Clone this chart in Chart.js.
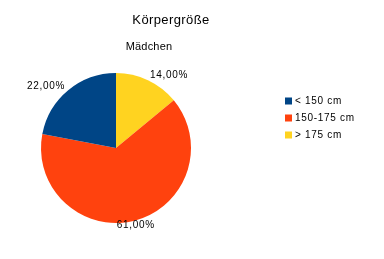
<!DOCTYPE html>
<html>
<head>
<meta charset="utf-8">
<script src="https://cdn.jsdelivr.net/npm/chart.js@4"></script>
<style>
  html, body { margin: 0; padding: 0; background: #fff; }
  #wrap { width: 384px; height: 259px; position: relative; }
</style>
</head>
<body>
<div id="wrap"><canvas id="chart" width="384" height="259"></canvas></div>
<script>
const titleText = 'Körpergröße';
const subtitleText = 'Mädchen';
const categories = ['< 150 cm', '150-175 cm', '> 175 cm'];
const shares = [22, 64, 14];
const valueLabels = ['22,00%', '61,00%', '14,00%'];
const colors = ['#004586', '#ff420e', '#ffd320'];

// pie drawn starting at 12 o'clock: yellow, red, blue going clockwise
const order = [2, 1, 0];

const font = 'Liberation Sans, Arial, sans-serif';

const decorations = {
  id: 'decorations',
  afterDraw(chart) {
    const ctx = chart.ctx;
    ctx.save();
    ctx.fillStyle = '#000';
    ctx.textBaseline = 'middle';

    ctx.font = `13px ${font}`;
    ctx.letterSpacing = '0.4px';
    ctx.textAlign = 'center';
    ctx.fillText(titleText, 171, 20);
    ctx.font = `11px ${font}`;
    ctx.letterSpacing = '0.2px';
    ctx.fillText(subtitleText, 149, 47);

    // value labels just outside each slice
    ctx.font = `10px ${font}`;
    ctx.letterSpacing = '0.7px';
    const meta = chart.getDatasetMeta(0);
    meta.data.forEach((arc, i) => {
      const mid = (arc.startAngle + arc.endAngle) / 2;
      const r = arc.outerRadius + 5;
      const x = arc.x + Math.cos(mid) * r;
      const y = arc.y + Math.sin(mid) * r;
      const c = Math.cos(mid);
      ctx.textAlign = Math.abs(c) < 0.4 ? 'center' : (c > 0 ? 'left' : 'right');
      ctx.fillText(valueLabels[order[i]], x, y);
    });

    // legend
    categories.forEach((name, i) => {
      const y = 101 + i * 17;
      ctx.fillStyle = colors[i];
      ctx.fillRect(285, y - 3.5, 7, 7);
      ctx.fillStyle = '#000';
      ctx.textAlign = 'left';
      ctx.fillText(name, 295, y);
    });
    ctx.restore();
  }
};

new Chart(document.getElementById('chart'), {
  type: 'pie',
  data: {
    labels: order.map((i) => categories[i]),
    datasets: [{
      data: order.map((i) => shares[i]),
      backgroundColor: order.map((i) => colors[i]),
      borderWidth: 0
    }]
  },
  options: {
    responsive: false,
    animation: false,
    devicePixelRatio: 1,
    layout: { padding: { left: 41, right: 193, top: 73, bottom: 36 } },
    plugins: {
      legend: { display: false },
      tooltip: { enabled: false }
    }
  },
  plugins: [decorations]
});
</script>
</body>
</html>
